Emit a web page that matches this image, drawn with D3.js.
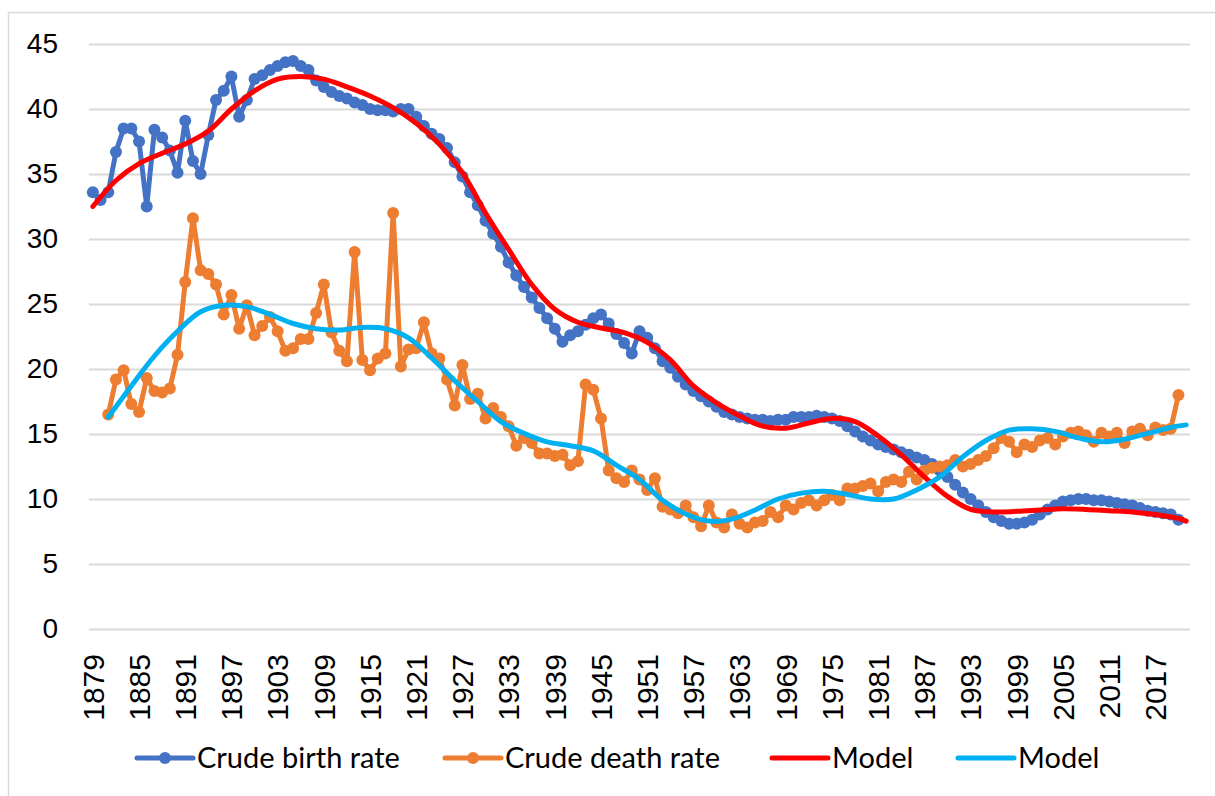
<!DOCTYPE html>
<html>
<head>
<meta charset="utf-8">
<script src="https://cdn.jsdelivr.net/npm/d3@7"></script>
<style>
  body { margin: 0; background: #fff; }
  svg { font-family: Lato, "Open Sans", sans-serif; }
</style>
</head>
<body>
<script>
// categories: one per year, 1879..2021
const firstYear = 1879, lastYear = 2021;
const years = d3.range(firstYear, lastYear + 1);
const tickYears = years.filter((d, i) => i % 6 === 0);
const yTicks = [0, 5, 10, 15, 20, 25, 30, 35, 40, 45];

// crude birth rate, 1879..2020
const birthStart = 1879;
const birthRate = [
  33.6, 33.0, 33.6, 36.7, 38.5, 38.5, 37.5, 32.5, 38.4, 37.8,
  36.8, 35.1, 39.1, 36.0, 35.0, 38.0, 40.7, 41.4, 42.5, 39.4,
  40.7, 42.3, 42.6, 43.0, 43.3, 43.6, 43.7, 43.3, 43.0, 42.2,
  41.7, 41.3, 41.0, 40.8, 40.5, 40.3, 40.0, 39.9, 39.9, 39.8,
  40.0, 40.0, 39.4, 38.7, 38.1, 37.7, 37.0, 35.9, 34.8, 33.6,
  32.6, 31.4, 30.4, 29.4, 28.2, 27.2, 26.3, 25.5, 24.7, 23.9,
  23.1, 22.1, 22.6, 22.9, 23.4, 23.9, 24.2, 23.5, 22.7, 22.0,
  21.2, 22.9, 22.4, 21.6, 20.6, 20.1, 19.4, 18.8, 18.3, 17.9,
  17.5, 17.1, 16.7, 16.5, 16.3, 16.2, 16.1, 16.1, 16.0, 16.1,
  16.1, 16.3, 16.3, 16.3, 16.4, 16.3, 16.2, 16.0, 15.6, 15.2,
  14.8, 14.5, 14.2, 14.0, 13.8, 13.6, 13.4, 13.2, 13.0, 12.7,
  12.2, 11.7, 11.1, 10.5, 10.0, 9.5, 9.0, 8.6, 8.3, 8.1,
  8.1, 8.2, 8.4, 8.8, 9.2, 9.5, 9.8, 9.9, 10.0, 10.0,
  9.9, 9.9, 9.8, 9.7, 9.6, 9.5, 9.3, 9.1, 9.0, 8.9,
  8.8, 8.4
];

// crude death rate, 1881..2020
const deathStart = 1881;
const deathRate = [
  16.5, 19.2, 19.9, 17.3, 16.7, 19.3, 18.3, 18.2, 18.5, 21.1,
  26.7, 31.6, 27.6, 27.3, 26.5, 24.2, 25.7, 23.1, 24.9, 22.6,
  23.3, 24.0, 22.9, 21.4, 21.6, 22.3, 22.3, 24.3, 26.5, 22.8,
  21.4, 20.6, 29.0, 20.7, 19.9, 20.8, 21.2, 32.0, 20.2, 21.5,
  21.6, 23.6, 21.2, 20.8, 19.2, 17.2, 20.3, 17.7, 18.1, 16.2,
  17.0, 16.3, 15.6, 14.1, 14.7, 14.3, 13.5, 13.5, 13.3, 13.4,
  12.6, 12.9, 18.8, 18.4, 16.2, 12.2, 11.6, 11.3, 12.2, 11.5,
  10.7, 11.6, 9.4, 9.2, 8.9, 9.5, 8.6, 7.9, 9.5, 8.2,
  7.8, 8.8, 8.1, 7.8, 8.2, 8.3, 9.0, 8.6, 9.5, 9.2,
  9.7, 9.9, 9.5, 9.9, 10.3, 9.9, 10.8, 10.8, 11.0, 11.2,
  10.6, 11.3, 11.5, 11.3, 12.1, 11.5, 12.2, 12.4, 12.5, 12.6,
  13.0, 12.5, 12.7, 13.0, 13.3, 13.9, 14.7, 14.4, 13.6, 14.2,
  14.0, 14.5, 14.7, 14.2, 14.8, 15.1, 15.2, 14.9, 14.4, 15.1,
  14.8, 15.1, 14.3, 15.2, 15.4, 14.9, 15.5, 15.3, 15.4, 18.0
];

// fitted model for births (read every 3 years)
const birthModelYears = [
  1879, 1882, 1885, 1888, 1891, 1894, 1897, 1900, 1903, 1906,
  1909, 1912, 1915, 1918, 1921, 1924, 1927, 1930, 1933, 1936,
  1939, 1942, 1945, 1948, 1951, 1954, 1957, 1960, 1963, 1966,
  1969, 1972, 1975, 1978, 1981, 1984, 1987, 1990, 1993, 1996,
  1999, 2002, 2005, 2008, 2011, 2014, 2017, 2020, 2021
];
const birthModel = [
  32.5, 34.5, 35.8, 36.6, 37.3, 38.3, 40.0, 41.4, 42.3, 42.5,
  42.3, 41.7, 41.0, 40.1, 38.9, 37.3, 35.1, 32.0, 29.2, 26.5,
  24.6, 23.6, 23.15, 22.8, 22.05, 20.7, 18.7, 17.4, 16.4, 15.6,
  15.45, 15.85, 16.2, 15.95, 14.85, 13.4, 11.7, 10.2, 9.2, 9.0,
  9.05, 9.15, 9.25, 9.2, 9.1, 9.0, 8.8, 8.5, 8.3
];

// fitted model for deaths (read every 3 years)
const deathModelYears = [
  1881, 1884, 1887, 1890, 1893, 1896, 1899, 1902, 1905, 1908,
  1911, 1914, 1917, 1920, 1923, 1926, 1929, 1932, 1935, 1938,
  1941, 1944, 1947, 1950, 1953, 1956, 1959, 1962, 1965, 1968,
  1971, 1974, 1977, 1980, 1983, 1986, 1989, 1992, 1995, 1998,
  2001, 2004, 2007, 2010, 2013, 2016, 2019, 2021
];
const deathModel = [
  16.3, 18.7, 21.0, 22.9, 24.4, 24.9, 24.8, 24.2, 23.5, 23.1,
  23.0, 23.2, 23.1, 22.4, 20.85, 19.1, 17.5, 15.95, 15.05, 14.4,
  14.1, 13.7, 12.6, 11.5, 9.9, 8.85, 8.3, 8.45, 9.15, 10.0,
  10.45, 10.6, 10.35, 10.0, 10.0, 10.7, 11.7, 13.25, 14.5, 15.3,
  15.4, 15.2, 14.7, 14.4, 14.6, 15.05, 15.5, 15.7
];

const seriesNames = ["Crude birth rate", "Crude death rate", "Model", "Model"];
const seriesColors = ["#4472C4", "#ED7D31", "#FF0000", "#00B0F0"];

const W = 1215, H = 796;
const plot = { left: 89, right: 1190, top: 44, bottom: 629 };

const svg = d3.select("body").append("svg")
  .attr("width", W)
  .attr("height", H);

svg.append("rect")
  .attr("x", 8.5).attr("y", 12.5)
  .attr("width", W).attr("height", H)
  .attr("fill", "#fff")
  .attr("stroke", "#d9d9d9")
  .attr("stroke-width", 1.5);

const x = d3.scaleBand()
  .domain(years)
  .range([plot.left, plot.right])
  .padding(0);
const cx = yr => x(yr) + x.bandwidth() / 2;

const y = d3.scaleLinear()
  .domain([0, 45])
  .range([plot.bottom, plot.top]);

// y axis + gridlines
svg.append("g")
  .attr("transform", `translate(${plot.left},0)`)
  .call(d3.axisLeft(y).tickValues(yTicks).tickSize(-(plot.right - plot.left)).tickPadding(31))
  .call(g => g.select(".domain").remove())
  .call(g => g.selectAll(".tick line").attr("stroke", "#d9d9d9").attr("stroke-width", 2))
  .call(g => g.selectAll(".tick text")
    .attr("font-size", 28)
    .attr("fill", "#000"));

// x axis, rotated year labels
svg.append("g")
  .attr("transform", `translate(0,${plot.bottom})`)
  .call(d3.axisBottom(x).tickValues(tickYears).tickSize(0))
  .call(g => g.select(".domain").remove())
  .call(g => g.selectAll(".tick text")
    .attr("font-size", 30)
    .attr("fill", "#000")
    .attr("transform", "rotate(-90)")
    .attr("text-anchor", "end")
    .attr("x", -25)
    .attr("y", 0)
    .attr("dy", "0.36em"));

const birthData = birthRate.map((v, i) => ({ year: birthStart + i, v }));
const deathData = deathRate.map((v, i) => ({ year: deathStart + i, v }));
const birthModelData = birthModel.map((v, i) => ({ year: birthModelYears[i], v }));
const deathModelData = deathModel.map((v, i) => ({ year: deathModelYears[i], v }));

const line = d3.line().x(d => cx(d.year)).y(d => y(d.v));
const smooth = d3.line().x(d => cx(d.year)).y(d => y(d.v)).curve(d3.curveCatmullRom.alpha(0.5));

function drawMarkers(data, color) {
  const g = svg.append("g");
  g.append("path")
    .datum(data)
    .attr("fill", "none")
    .attr("stroke", color)
    .attr("stroke-width", 5)
    .attr("stroke-linejoin", "round")
    .attr("d", line);
  g.selectAll("circle")
    .data(data)
    .join("circle")
    .attr("cx", d => cx(d.year))
    .attr("cy", d => y(d.v))
    .attr("r", 6)
    .attr("fill", color);
}

drawMarkers(birthData, seriesColors[0]);
drawMarkers(deathData, seriesColors[1]);

[birthModelData, deathModelData].forEach((data, k) => {
  svg.append("path")
    .datum(data)
    .attr("fill", "none")
    .attr("stroke", seriesColors[k + 2])
    .attr("stroke-width", 5)
    .attr("stroke-linecap", "round")
    .attr("d", smooth);
});

// legend
const legendX = [137, 445, 772, 958];
const legend = svg.append("g")
  .selectAll("g")
  .data(seriesNames)
  .join("g")
  .attr("transform", (d, i) => `translate(${legendX[i]},758)`);

legend.append("line")
  .attr("x1", 0).attr("x2", 56)
  .attr("stroke", (d, i) => seriesColors[i])
  .attr("stroke-width", 5)
  .attr("stroke-linecap", "round");

legend.filter((d, i) => i < 2).append("circle")
  .attr("cx", 28)
  .attr("r", 6)
  .attr("fill", (d, i) => seriesColors[i]);

legend.append("text")
  .attr("x", 60)
  .attr("dy", "0.35em")
  .attr("font-size", 29)
  .text(d => d);
</script>
</body>
</html>
